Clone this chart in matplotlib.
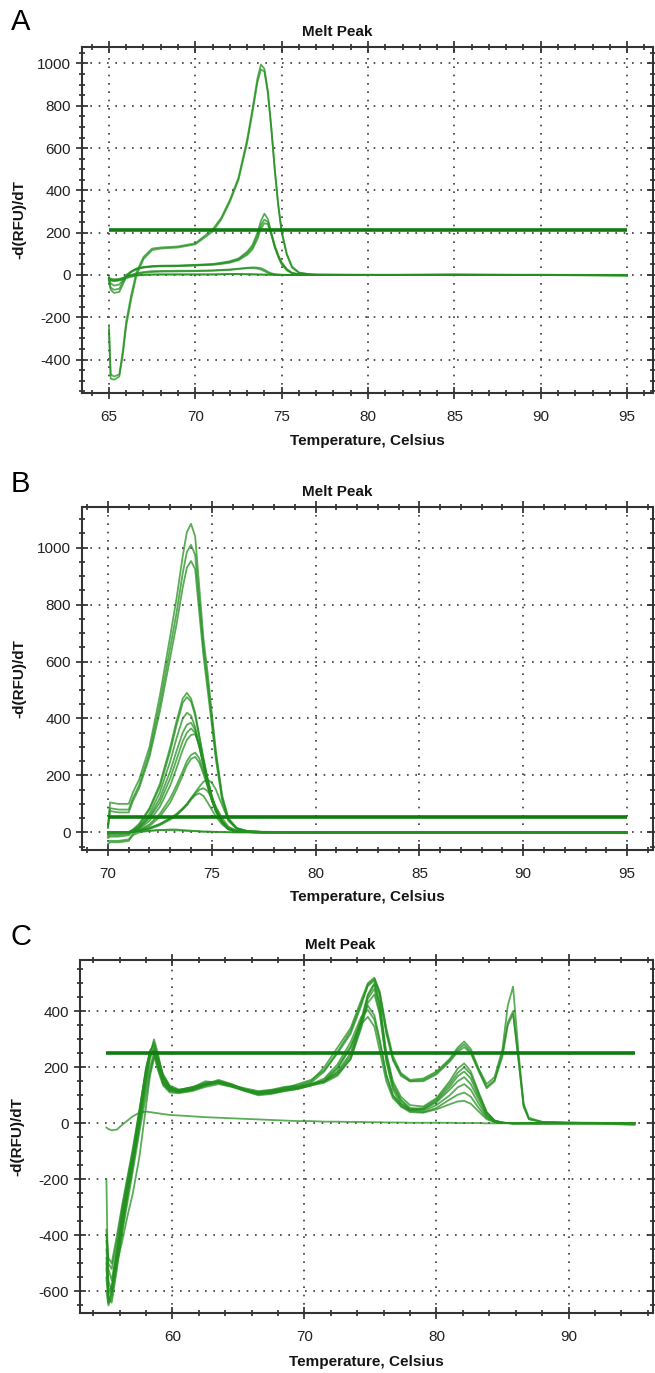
import matplotlib
matplotlib.use("Agg")
import matplotlib.pyplot as plt
from matplotlib.ticker import MultipleLocator

plt.rcParams['font.family'] = ['Liberation Sans', 'DejaVu Sans']
plt.rcParams['axes.unicode_minus'] = False

# ---- panel A: melt peak, 65-95 C ----
temp_a = [65.0, 65.1, 65.3, 65.6, 65.8, 66.0, 66.3, 66.6, 67.0, 67.5, 68.0, 69.0,
          70.0, 71.0, 71.5, 72.0, 72.5, 73.0, 73.3, 73.6, 73.8, 74.0, 74.2, 74.4,
          74.6, 74.8, 75.0, 75.3, 75.6, 76.0, 76.5, 77.0, 80.0, 85.0, 90.0, 95.0]
a_big1 = [-240, -470, -480, -470, -360, -220, -90, 15, 85, 125, 130, 135, 150, 215, 270, 355, 460, 640,
          780, 930, 995, 975, 870, 700, 500, 330, 200, 95, 35, 10, 4, 2, 0, 2, 0, 0]
a_big2 = [-260, -490, -495, -480, -380, -240, -110, 0, 75, 118, 125, 130, 145, 205, 262, 345, 450, 625,
          765, 912, 972, 962, 862, 692, 498, 335, 208, 100, 40, 12, 5, 2, 1, 0, 1, 0]
a_mid1 = [-20, -70, -85, -80, -45, -10, 15, 30, 38, 42, 44, 45, 48, 52, 58, 65, 78, 110,
          140, 200, 255, 290, 265, 200, 140, 95, 60, 28, 10, 4, 2, 1, 0, 1, 0, 0]
a_mid2 = [-25, -60, -70, -65, -35, -5, 15, 28, 35, 40, 42, 43, 46, 50, 55, 62, 74, 102,
          130, 185, 235, 262, 250, 195, 135, 90, 55, 25, 9, 3, 1, 0, 0, 1, 0, 0]
a_mid3 = [-15, -40, -50, -45, -25, 0, 18, 30, 36, 40, 41, 42, 45, 48, 52, 58, 70, 95,
          120, 170, 220, 245, 240, 190, 130, 85, 50, 22, 8, 2, 1, 0, 0, 0, 0, 0]
a_low1 = [-15, -25, -28, -25, -18, -10, 0, 8, 14, 18, 19, 20, 20, 22, 24, 26, 30, 34,
          36, 35, 32, 25, 15, 8, 4, 2, 1, 0, 0, 0, 0, 0, 0, 0, 0, 0]
a_low2 = [-10, -22, -25, -22, -15, -8, 0, 5, 10, 14, 16, 17, 18, 20, 22, 24, 28, 32,
          33, 30, 26, 18, 10, 5, 3, 1, 0, 0, 0, 0, 0, 0, 0, 0, 0, 0]
a_base1 = [-20, -25, -28, -25, -20, -15, -8, -3, 0, 2, 2, 3, 2, 3, 4, 5, 5, 4,
           3, 3, 2, 2, 2, 1, 1, 1, 1, 1, 0, 1, 0, 0, 1, 0, 1, -2]
a_base2 = [-15, -18, -20, -18, -14, -10, -5, -1, 1, 2, 3, 2, 3, 2, 3, 4, 4, 3,
           3, 2, 2, 1, 1, 1, 0, 0, 0, 0, 0, 0, 0, 0, 0, 2, 0, -4]
threshold_a = 215

# ---- panel B: melt peak, 70-95 C ----
temp_b = [70.0, 70.1, 70.5, 71.0, 71.2, 71.5, 72.0, 72.5, 73.0, 73.3, 73.6, 73.8, 74.0, 74.2,
          74.4, 74.6, 74.8, 75.0, 75.2, 75.5, 75.8, 76.2, 76.7, 77.5, 80.0, 85.0, 90.0, 95.0]
b_big1 = [20, 105, 100, 100, 140, 185, 300, 480, 690, 820, 970, 1055, 1084, 1040,
          860, 680, 560, 420, 285, 130, 50, 15, 5, 2, 0, 1, 0, 0]
b_big2 = [20, 85, 80, 80, 120, 165, 280, 450, 650, 770, 910, 985, 1010, 975,
          810, 650, 530, 400, 270, 122, 46, 13, 4, 1, 0, 0, 1, 0]
b_big3 = [15, 75, 70, 70, 110, 155, 265, 425, 615, 730, 860, 930, 953, 925,
          770, 620, 500, 380, 255, 112, 40, 12, 4, 1, 0, 0, 0, 0]
b_mid1 = [-10, -5, -5, 0, 10, 30, 85, 170, 300, 390, 470, 490, 470, 420,
          340, 260, 190, 130, 85, 40, 15, 5, 1, 0, 0, 0, 0, 0]
b_mid2 = [-20, -15, -15, -10, 5, 25, 80, 160, 285, 375, 455, 475, 460, 410,
          335, 255, 185, 125, 80, 38, 14, 4, 1, 0, 0, 0, 0, 0]
b_mid3 = [-15, -10, -10, -5, 5, 20, 65, 140, 250, 330, 400, 420, 410, 370,
          305, 235, 170, 115, 75, 35, 12, 4, 1, 0, 0, 0, 0, 0]
b_mid4 = [0, 0, 0, 2, 8, 18, 55, 120, 215, 285, 350, 378, 385, 360,
          300, 235, 170, 115, 75, 35, 12, 4, 1, 0, 0, 0, 0, 0]
b_mid5 = [-30, -30, -30, -25, -5, 15, 50, 105, 190, 255, 320, 350, 365, 350,
          300, 240, 175, 120, 78, 36, 12, 4, 1, 0, 0, 0, 0, 0]
b_mid6 = [-5, 0, 0, 0, 5, 12, 40, 90, 165, 225, 290, 325, 342, 345,
          310, 250, 185, 125, 80, 38, 13, 4, 1, 0, 0, 0, 0, 0]
b_mid7 = [0, 0, 0, 0, 3, 8, 28, 65, 120, 165, 215, 250, 272, 280,
          260, 215, 165, 115, 75, 35, 12, 4, 1, 0, 0, 0, 0, 0]
b_mid8 = [0, 0, 0, 0, 2, 6, 22, 55, 105, 150, 200, 235, 258, 265,
          245, 205, 160, 112, 72, 34, 12, 4, 1, 0, 0, 0, 0, 0]
b_low1 = [0, 0, 0, 0, 2, 5, 15, 30, 50, 65, 85, 100, 120, 140,
          160, 178, 185, 175, 150, 95, 45, 15, 4, 1, 0, 0, 0, 0]
b_low2 = [0, 0, 0, 0, 1, 4, 12, 25, 45, 60, 80, 95, 115, 130,
          137, 128, 105, 80, 55, 28, 10, 3, 1, 0, 0, 0, 0, 0]
b_low3 = [0, 0, 0, 0, 2, 5, 15, 28, 48, 62, 82, 98, 118, 135,
          150, 155, 145, 120, 90, 50, 20, 6, 2, 0, 0, 0, 0, 0]
b_base1 = [-40, -35, -35, -30, -10, 0, 5, 8, 10, 10, 8, 7, 6, 5,
           4, 3, 3, 2, 2, 1, 1, 0, 0, 0, 0, 1, 0, -3]
b_base2 = [-5, 0, 0, 0, 2, 4, 6, 8, 8, 7, 6, 5, 4, 4,
           3, 2, 2, 2, 1, 1, 0, 0, 0, 0, 0, 0, 0, 0]
threshold_b = 55

# ---- panel C: melt peak, 55-95 C ----
temp_c = [55.0, 55.15, 55.4, 55.8, 56.2, 56.6, 57.0, 57.5, 58.0, 58.3, 58.6, 58.9, 59.3, 59.8,
          60.5, 61.5, 62.5, 63.5, 64.5, 65.5, 66.5, 67.5, 68.5, 69.5, 70.5, 71.5, 72.5, 73.5,
          74.3, 74.8, 75.3, 75.7, 76.2, 76.7, 77.3, 78.0, 79.0, 80.0, 81.0, 81.6, 82.1, 82.6,
          83.2, 83.8, 84.4, 85.0, 85.4, 85.8, 86.2, 86.6, 87.0, 88.0, 90.0, 92.0, 95.0]
c_up1 = [-450, -560, -600, -480, -340, -230, -130, 20, 170, 250, 290, 230, 150, 120,
         115, 125, 145, 150, 135, 125, 115, 120, 130, 135, 150, 200, 270, 340,
         440, 500, 520, 470, 340, 240, 180, 155, 160, 185, 230, 270, 292, 265,
         195, 140, 165, 265, 420, 488, 260, 70, 20, 5, 3, 2, 0]
c_up2 = [-500, -620, -640, -520, -380, -260, -150, 0, 150, 230, 270, 240, 160, 125,
         118, 130, 140, 155, 140, 120, 112, 118, 125, 140, 155, 190, 255, 330,
         430, 490, 510, 455, 320, 225, 170, 150, 150, 175, 220, 255, 272, 250,
         185, 125, 150, 240, 350, 390, 230, 60, 15, 5, 2, 1, 0]
c_up3 = [-420, -520, -560, -450, -320, -210, -110, 40, 190, 260, 280, 215, 145, 118,
         120, 128, 150, 145, 132, 118, 110, 115, 128, 132, 145, 185, 250, 320,
         420, 495, 515, 465, 330, 230, 175, 150, 155, 180, 225, 262, 282, 255,
         190, 130, 155, 250, 360, 400, 235, 62, 15, 5, 2, 1, 0]
c_lo1 = [-550, -640, -600, -470, -350, -240, -140, 10, 160, 240, 300, 250, 160, 125,
         112, 120, 138, 150, 138, 122, 108, 112, 122, 130, 140, 150, 185, 250,
         370, 460, 500, 430, 250, 150, 95, 65, 60, 90, 150, 195, 214, 185,
         110, 40, 10, 3, 1, 0, 0, 0, 0, 0, 0, 0, 0]
c_lo2 = [-480, -600, -580, -450, -330, -220, -120, 30, 180, 245, 260, 200, 140, 115,
         110, 118, 135, 148, 135, 118, 105, 110, 118, 125, 140, 160, 210, 290,
         380, 405, 370, 290, 170, 100, 70, 50, 55, 85, 140, 180, 200, 175,
         105, 40, 10, 3, 1, 0, 0, 0, 0, 0, 0, 0, 0]
c_lo3 = [-400, -500, -520, -420, -300, -200, -100, 40, 200, 255, 245, 190, 135, 110,
         108, 115, 130, 140, 130, 115, 100, 105, 115, 122, 135, 155, 200, 275,
         355, 380, 345, 260, 150, 90, 62, 45, 50, 80, 130, 168, 185, 160,
         95, 35, 8, 2, 1, 0, 0, 0, 0, 0, 0, 0, 0]
c_lo4 = [-520, -610, -590, -470, -360, -250, -150, -10, 130, 200, 250, 230, 170, 130,
         118, 125, 140, 148, 136, 120, 108, 110, 120, 128, 138, 150, 180, 240,
         360, 455, 495, 420, 245, 140, 85, 55, 50, 75, 120, 150, 165, 140,
         85, 30, 8, 2, 1, 0, 0, 0, 0, 0, 0, 0, 0]
c_lo5 = [-600, -650, -620, -500, -390, -280, -170, -30, 100, 180, 240, 220, 165, 128,
         115, 122, 138, 145, 132, 118, 106, 108, 118, 126, 135, 145, 170, 230,
         350, 445, 480, 400, 230, 130, 80, 50, 45, 65, 100, 128, 140, 120,
         70, 25, 6, 2, 1, 0, 0, 0, 0, 0, 0, 0, 0]
c_lo6 = [-200, -640, -600, -500, -420, -330, -250, -120, 60, 170, 230, 235, 175, 135,
         120, 128, 142, 150, 138, 120, 110, 115, 122, 128, 140, 150, 175, 230,
         340, 430, 460, 390, 220, 120, 70, 45, 40, 55, 85, 102, 110, 95,
         55, 20, 5, 2, 1, 0, 0, 0, 0, 0, 0, 0, 0]
c_lo7 = [-380, -480, -500, -400, -290, -190, -90, 50, 190, 250, 260, 205, 145, 118,
         112, 120, 135, 145, 132, 116, 104, 108, 116, 124, 136, 150, 195, 270,
         370, 420, 385, 300, 175, 100, 60, 40, 38, 50, 68, 78, 80, 70,
         42, 15, 4, 1, 0, 0, 0, 0, 0, 0, 0, 0, 0]
c_base = [-15, -20, -25, -22, -5, 10, 25, 38, 42, 40, 38, 36, 33, 30,
          28, 25, 22, 20, 18, 16, 14, 12, 10, 8, 8, 6, 6, 5,
          5, 4, 4, 4, 3, 3, 3, 2, 2, 2, 2, 1, 1, 1,
          1, 0, 0, 0, 1, 0, 0, 1, 0, 0, 1, 0, -6]
threshold_c = 250

GREEN = '#23901f'
THR_GREEN = '#0e7c0e'
W, H = 655, 1373


def draw_panel(ax, x, curves, thr, xlim, ylim, xmaj, xmin, title_x):
    ax.set_xlim(xlim)
    ax.set_ylim(ylim)
    ax.grid(True, which='major', color='#3a3a3a', linestyle=(0, (1, 4)), linewidth=1.2)
    ax.set_axisbelow(True)
    for y in curves:
        ax.plot(x, y, color=GREEN, lw=1.3, alpha=0.75)
    ax.hlines(thr, x[0], x[-1], color=THR_GREEN, lw=2.6)

    ax.xaxis.set_major_locator(MultipleLocator(xmaj))
    ax.xaxis.set_minor_locator(MultipleLocator(xmin))
    ax.yaxis.set_major_locator(MultipleLocator(200))
    ax.yaxis.set_minor_locator(MultipleLocator(50))
    ax.tick_params(which='both', direction='inout', top=True, right=True,
                   color='#2a2a2a', width=1.2, labelcolor='#222222')
    ax.tick_params(which='major', length=8, labelsize=11)
    ax.tick_params(which='minor', length=5)
    ax.tick_params(axis='x', pad=8)
    ax.tick_params(axis='y', pad=4)
    for s in ax.spines.values():
        s.set_linewidth(1.5)
        s.set_color('#333333')

    ax.set_title('Melt Peak', fontsize=11, fontweight='bold', x=title_x, pad=8, color='#151515')
    ax.set_xlabel('Temperature, Celsius', fontsize=11, fontweight='bold', color='#151515')
    ax.set_ylabel('-d(RFU)/dT', fontsize=11, fontweight='bold', color='#151515')
    ax.xaxis.set_label_coords(0.5, -0.118)
    ax.yaxis.set_label_coords(-0.097, 0.5)


fig = plt.figure(figsize=(W / 100, H / 100), dpi=100)

ax_a = fig.add_axes([82 / W, 1 - 393 / H, 571 / W, 346 / H])
draw_panel(ax_a, temp_a, [a_big1, a_big2, a_mid1, a_mid2, a_mid3, a_low1, a_low2, a_base1, a_base2],
           threshold_a, (63.44, 96.5), (-558, 1078), 5, 1, 0.447)

ax_b = fig.add_axes([82 / W, 1 - 850 / H, 571 / W, 343 / H])
draw_panel(ax_b, temp_b, [b_big1, b_big2, b_big3, b_mid1, b_mid2, b_mid3, b_mid4, b_mid5, b_mid6,
                          b_mid7, b_mid8, b_low1, b_low2, b_low3, b_base1, b_base2],
           threshold_b, (68.75, 96.25), (-62, 1143), 5, 1, 0.447)

ax_c = fig.add_axes([80 / W, 1 - 1313 / H, 573 / W, 353 / H])
draw_panel(ax_c, temp_c, [c_up1, c_up2, c_up3, c_lo1, c_lo2, c_lo3, c_lo4, c_lo5, c_lo6, c_lo7, c_base],
           threshold_c, (53.0, 96.4), (-677, 583), 10, 2, 0.455)

for letter, base in [('A', 30), ('B', 492), ('C', 945)]:
    fig.text(11 / W, 1 - base / H, letter, fontsize=21, va='baseline', ha='left', color='black')

fig.savefig('out.png', dpi=100)
